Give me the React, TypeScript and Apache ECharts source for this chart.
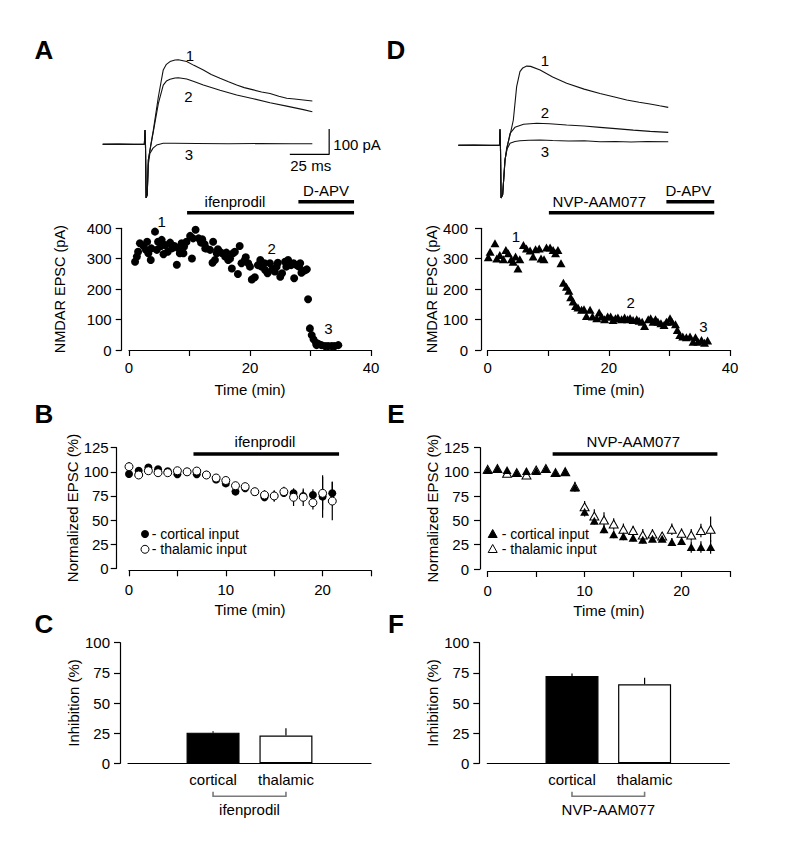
import { useEffect, useRef } from "react";
import * as echarts from "echarts";

const FONT = "Liberation Sans, Arial, Helvetica, sans-serif";

// ---------- Example traces (ms, pA) ----------
const traceA1: number[][] = [[0,0],[10,1],[20,-1],[26.5,0],[26.9,56],[27.2,0],[27.6,-212],[28.3,-200],[29,-62],[30.5,-5],[32.2,56],[35.4,188],[38.5,294],[40.5,316],[42.8,327],[46,333],[48.1,334],[53.4,327],[58,312],[64,294],[69,276],[74.6,261],[80,247],[85.2,234],[90,224],[95.8,215],[101,207],[106.4,201],[112,190],[117,182],[122,179],[127.6,175],[133.3,171]];
const traceA2: number[][] = [[0,0],[26.5,0],[26.9,56],[27.2,0],[27.6,-212],[28.3,-200],[29,-62],[30.5,-8],[32.2,50],[35.4,162],[38.5,234],[40.5,250],[42.8,257],[46,262],[48.1,263],[53.4,258],[58,248],[64,234],[74.6,214],[85.2,195],[95.8,180],[106.4,164],[117,151],[127.6,137],[133.3,129]];
const traceA3: number[][] = [[0,0],[26.5,0],[26.9,56],[27.2,0],[27.6,-212],[28.3,-200],[29,-80],[30,-36],[32,-15],[34.3,-3],[38.5,4],[45,4],[60,3],[80,2],[100,3],[120,2],[133.3,2]];
const scaleBarA: number[][] = [[119,-40],[144,-40],[144,60]];

const traceD1: number[][] = [[0,0],[10,1],[20,-1],[26.2,0],[26.5,63],[26.8,0],[27.2,-208],[28.2,-195],[29.7,-58],[30.8,-10],[32.9,40],[35,100],[37.1,232],[39.2,291],[41,306],[43.5,313],[46,312],[52,298],[60,270],[68.9,245],[80,222],[90.1,205],[100,190],[107.1,179],[115,170],[121.9,163],[128,156],[133.5,150]];
const traceD2: number[][] = [[0,0],[26.2,0],[26.5,63],[26.8,0],[27.2,-208],[28.2,-195],[29.7,-58],[31,-10],[32.9,47],[36,71],[41.5,83],[49.9,87],[58,85],[68.9,80],[80,76],[90.1,71],[100,66],[111.3,60],[122,55],[133.5,51]];
const traceD3: number[][] = [[0,0],[26.2,0],[26.5,63],[26.8,0],[27.2,-208],[28.2,-195],[29.7,-58],[31,-15],[32.9,8],[36,15],[39.2,18],[45,20],[52,21],[60,19],[70,17],[80,18],[90.1,14],[100,15],[110,13],[120,15],[133.5,14]];

// ---------- Panel A: ifenprodil time course ----------
const aTime = [1.0,1.3,1.5,1.8,2.4,2.8,3.0,3.2,3.6,3.7,4.3,4.6,4.8,5.3,5.4,5.7,6.0,6.4,6.8,7.1,7.5,7.9,8.2,8.4,8.7,9.0,9.1,9.5,10.1,10.4,10.6,11.0,11.5,11.9,12.1,12.5,12.6,12.8,13.4,13.8,13.9,14.2,14.5,14.7,15.0,15.4,15.9,16.1,16.4,16.7,17.0,17.2,17.5,18.0,18.3,18.6,19.1,19.3,19.7,20.0,20.3,20.8,21.3,21.7,21.9,22.4,22.5,22.9,23.3,23.7,24.1,24.4,24.6,25.0,25.3,25.8,26.0,26.3,26.8,27.2,27.3,27.7,28.1,28.3,28.5,29.0,29.4,29.6,29.9,30.2,30.5,30.9,31.0,31.3,31.8,32.4,32.9,33.5,34.0,34.6];
const aEpsc = [290,307,323,351,342,329,356,318,296,334,389,329,356,342,362,315,345,323,353,334,342,280,334,318,351,318,340,356,375,301,367,395,367,353,364,348,334,334,329,287,356,296,318,331,323,318,307,320,296,301,268,318,323,250,342,285,294,305,285,274,232,239,279,296,274,285,263,252,285,265,258,274,287,241,252,290,274,296,279,285,236,279,274,285,254,261,265,167,71,49,35,24,16,20,16,13,13,13,13,16];

// ---------- Panel D: NVP-AAM077 time course ----------
const dTime = [0.1,0.4,1.2,1.5,2.0,2.6,3.0,3.4,3.9,4.2,4.6,5.0,5.3,5.9,6.4,7.0,7.5,7.9,8.5,8.8,9.3,9.7,10.3,10.8,11.2,11.6,12.1,12.5,13.0,13.4,13.7,14.1,14.5,14.9,15.5,15.9,16.3,16.9,17.3,18.0,18.4,18.8,19.3,19.8,20.3,20.7,21.1,21.5,22.1,22.6,23.1,23.5,24.0,24.6,25.0,25.5,25.9,26.5,26.9,27.3,27.7,28.1,28.6,29.1,29.5,30.1,30.4,31.0,31.3,31.7,32.2,32.8,33.4,33.9,34.3,34.7,35.3,35.8,36.3];
const dEpsc = [305,323,351,301,312,298,329,318,298,290,307,268,298,345,334,327,307,331,334,301,298,337,337,329,318,329,285,221,208,195,173,159,145,140,132,134,112,132,110,104,123,110,101,110,110,99,104,107,101,107,101,104,99,101,96,93,79,101,104,93,101,93,88,82,93,104,93,85,66,49,44,42,44,27,42,27,33,24,31];

// drug application bars (min)
const drugsA = [{ name: "ifenprodil", start: 9.6, end: 37.2 }, { name: "D-APV", start: 28, end: 37.2 }];
const drugsD = [{ name: "NVP-AAM077", start: 10.1, end: 37.4 }, { name: "D-APV", start: 29.5, end: 37.4 }];
const drugB = [{ name: "ifenprodil", start: 6.66, end: 21.7 }];
const drugE = [{ name: "NVP-AAM077", start: 6.7, end: 23.7 }];

// ---------- Panel B ----------
const bTime = [0,1,2,3,4,5,6,7,8,9,10,11,12,13,14,15,16,17,18,19,20,21];
const bCort = [97.7,101.1,104.5,102.6,100.5,97.4,100,97.4,97,92,88,79.5,83,79,73.6,75,78,77.7,75,76,74.5,77.7];
const bCortErr = [2,2,2,2,2,2,2,2,2,3,3,3,4,3,4,5,4,5,6,6,22,12];
const bThal = [105.3,96.7,101.1,99.1,99.1,101.1,100,100.8,96.7,93.6,91,85.6,84.6,79.4,76,75,79.4,73.6,73.6,68,77.7,69.7];
const bThalErr = [5,2,2,2,2,2,2,2,4,4,4,4,4,4,5,6,5,9,9,7,17,20];

// ---------- Panel E ----------
const eTime = [0,1,2,3,4,5,6,7,8,9,10,11,12,13,14,15,16,17,18,19,20,21,22,23];
const eCort = [102,103,102,99,101,101,103,99,100,84,59,49.8,40.9,35.7,33.7,32.3,30.2,31.3,31.3,27.9,28.9,22.7,22.7,22.7];
const eCortErr = [2,2,2,2,3,2,2,2,2,4,5,4,4,4,4,4,4,3,3,4,4,6,6,7];
const eThal = [102.7,103.6,98.6,99.3,96.8,102,103.6,99.3,100.3,84.8,64.2,54.6,50.5,46.4,41,39.6,35.1,36.1,34,41,36.8,35.1,39.6,41];
const eThalErr = [2,2,2,2,3,2,2,2,2,5,6,7,8,6,6,5,6,5,4,6,5,6,7,13];

// ---------- Panels C & F ----------
const barCats = ["cortical", "thalamic"];
const cInhib = [25.4, 23];
const cErr = [1.2, 6];
const fInhib = [72.4, 65.5];
const fErr = [2, 5.5];

const black = "#000";

function axisBase(extra: any) {
  return {
    type: "value",
    splitLine: { show: false },
    axisLine: { show: true, onZero: false, lineStyle: { color: black, width: 1.2 } },
    axisTick: { show: true, length: 6, lineStyle: { color: black, width: 1.2 } },
    nameTextStyle: { color: black, fontSize: 15, fontFamily: FONT },
    nameLocation: "middle",
    ...extra,
    axisLabel: { color: black, fontSize: 15, fontFamily: FONT, ...(extra.axisLabel || {}) },
  };
}

const drugBar = (offsets: number[]) => (params: any, api: any) => {
  const x0 = api.coord([api.value(0), 0])[0];
  const x1 = api.coord([api.value(1), 0])[0];
  const y = params.coordSys.y - offsets[params.dataIndex];
  return { type: "line", shape: { x1: x0, y1: y, x2: x1, y2: y }, style: { stroke: black, lineWidth: 3.5 } };
};

const errBar = (params: any, api: any) => {
  const x = api.value(0), m = api.value(1), e = api.value(2);
  const p1 = api.coord([x, m - e]);
  const p2 = api.coord([x, m + e]);
  return { type: "line", shape: { x1: p1[0], y1: p1[1], x2: p2[0], y2: p2[1] }, style: { stroke: black, lineWidth: 1.2 } };
};

const errBarUp = (params: any, api: any) => {
  const x = api.value(0), m = api.value(1), e = api.value(2);
  const p1 = api.coord([x, m]);
  const p2 = api.coord([x, m + e]);
  return { type: "line", shape: { x1: p1[0], y1: p1[1], x2: p2[0], y2: p2[1] }, style: { stroke: black, lineWidth: 1.2 } };
};

const bracket = (params: any, api: any) => {
  const a = api.coord([api.value(0), 0]);
  const b = api.coord([api.value(1), 0]);
  const y = a[1] + 33;
  return {
    type: "polyline",
    shape: { points: [[a[0], y - 4.5], [a[0], y], [b[0], y], [b[0], y - 4.5]] },
    style: { stroke: "#7a7a7a", lineWidth: 1.6, fill: null },
  };
};

function txt(text: string, x: number, y: number, opts: any = {}) {
  return {
    type: "text",
    x,
    y,
    style: {
      text,
      fill: black,
      fontSize: opts.size || 15,
      fontWeight: opts.bold ? "bold" : "normal",
      fontFamily: FONT,
      align: opts.align || "center",
      verticalAlign: "middle",
    },
  };
}

function tri(cx: number, cy: number, filled: boolean) {
  return {
    type: "polygon",
    shape: { points: [[cx, cy - 4.5], [cx + 4.5, cy + 3.5], [cx - 4.5, cy + 3.5]] },
    style: { fill: filled ? black : "#fff", stroke: black, lineWidth: 1 },
  };
}

export default function App() {
  const ref = useRef<HTMLDivElement>(null);
  useEffect(() => {
    if (!ref.current) return;
    const chart = echarts.init(ref.current, null, { renderer: "svg" });

    const traceLine = (data: number[][], idx: number) => ({
      type: "line", xAxisIndex: idx, yAxisIndex: idx, data, showSymbol: false, symbol: "none",
      lineStyle: { color: "#111", width: 1.1 }, silent: true,
    });

    const option: any = {
      animation: false,
      backgroundColor: "#fff",
      textStyle: { fontFamily: FONT, fontSize: 15, color: black },
      grid: [
        { left: 102.7, top: 43.1, width: 235.9, height: 164.45 },
        { left: 458.3, top: 44.1, width: 235.9, height: 164.45 },
        { left: 129, top: 228.3, width: 242, height: 121.7 },
        { left: 487.7, top: 228.3, width: 242.3, height: 121.7 },
        { left: 129, top: 447.7, width: 242, height: 120.6 },
        { left: 487.7, top: 447.7, width: 242.3, height: 121.3 },
        { left: 128, top: 642.7, width: 243, height: 120.6 },
        { left: 487.3, top: 642.7, width: 242, height: 120.6 },
      ],
      xAxis: [
        { gridIndex: 0, type: "value", min: 0, max: 150, show: false },
        { gridIndex: 1, type: "value", min: 0, max: 150, show: false },
        axisBase({ gridIndex: 2, min: 0, max: 40, interval: 10, name: "Time (min)", nameGap: 32,
          axisLabel: { margin: 10, formatter: (v: number) => (v % 20 === 0 ? String(v) : "") } }),
        axisBase({ gridIndex: 3, min: 0, max: 40, interval: 10, name: "Time (min)", nameGap: 32,
          axisLabel: { margin: 10, formatter: (v: number) => (v % 20 === 0 ? String(v) : "") } }),
        axisBase({ gridIndex: 4, min: 0, max: 25, interval: 5, offset: 2, name: "Time (min)", nameGap: 32,
          axisLabel: { margin: 12, formatter: (v: number) => (v % 10 === 0 ? String(v) : "") } }),
        axisBase({ gridIndex: 5, min: 0, max: 25, interval: 5, offset: 2, name: "Time (min)", nameGap: 32,
          axisLabel: { margin: 12, formatter: (v: number) => (v % 10 === 0 ? String(v) : "") } }),
        axisBase({ gridIndex: 6, min: -1 / 6, max: 19 / 6, name: "ifenprodil", nameGap: 38.5,
          axisTick: { show: false },
          axisLabel: { margin: 9, customValues: [1, 2], formatter: (v: number) => barCats[Math.round(v) - 1] || "" } }),
        axisBase({ gridIndex: 7, min: -1 / 6, max: 19 / 6, name: "NVP-AAM077", nameGap: 38.5,
          axisTick: { show: false },
          axisLabel: { margin: 9, customValues: [1, 2], formatter: (v: number) => barCats[Math.round(v) - 1] || "" } }),
      ],
      yAxis: [
        { gridIndex: 0, type: "value", min: -250, max: 400, show: false },
        { gridIndex: 1, type: "value", min: -250, max: 400, show: false },
        axisBase({ gridIndex: 2, min: 0, max: 400, interval: 100, offset: 7.3, name: "NMDAR EPSC (pA)", nameGap: 54,
          nameTextStyle: { color: black, fontSize: 14.5, fontFamily: FONT }, axisLabel: { margin: 10 } }),
        axisBase({ gridIndex: 3, min: 0, max: 400, interval: 100, offset: 6.7, name: "NMDAR EPSC (pA)", nameGap: 42,
          nameTextStyle: { color: black, fontSize: 14.5, fontFamily: FONT }, axisLabel: { margin: 13 } }),
        axisBase({ gridIndex: 4, min: 0, max: 125, interval: 25, offset: 12.3, name: "Normalized EPSC (%)", nameGap: 36,
          axisLabel: { margin: 8 } }),
        axisBase({ gridIndex: 5, min: 0, max: 125, interval: 25, offset: 7.7, name: "Normalized EPSC (%)", nameGap: 39,
          axisLabel: { margin: 11 } }),
        axisBase({ gridIndex: 6, min: 0, max: 100, interval: 25, offset: 8, name: "Inhibition (%)", nameGap: 38.5,
          axisLabel: { margin: 10 } }),
        axisBase({ gridIndex: 7, min: 0, max: 100, interval: 25, offset: 8, name: "Inhibition (%)", nameGap: 39,
          axisLabel: { margin: 10 } }),
      ],
      series: [
        // traces
        traceLine(traceA1, 0), traceLine(traceA2, 0), traceLine(traceA3, 0),
        { ...traceLine(scaleBarA, 0), lineStyle: { color: black, width: 1.2 } },
        traceLine(traceD1, 1), traceLine(traceD2, 1), traceLine(traceD3, 1),
        // time courses
        { type: "custom", xAxisIndex: 2, yAxisIndex: 2, data: drugsA.map((d) => [d.start, d.end]), renderItem: drugBar([15.6, 26.6]), silent: true },
        { type: "scatter", xAxisIndex: 2, yAxisIndex: 2, data: aTime.map((t, i) => [t, aEpsc[i]]), symbol: "circle", symbolSize: 8, itemStyle: { color: black, opacity: 1 }, silent: true },
        { type: "custom", xAxisIndex: 3, yAxisIndex: 3, data: drugsD.map((d) => [d.start, d.end]), renderItem: drugBar([15.6, 26.6]), silent: true },
        { type: "scatter", xAxisIndex: 3, yAxisIndex: 3, data: dTime.map((t, i) => [t, dEpsc[i]]), symbol: "triangle", symbolSize: [9, 8], itemStyle: { color: black, opacity: 1 }, silent: true },
        // B
        { type: "custom", xAxisIndex: 4, yAxisIndex: 4, data: drugB.map((d) => [d.start, d.end]), renderItem: drugBar([-6.3]), silent: true },
        { type: "custom", z: 1, xAxisIndex: 4, yAxisIndex: 4, data: bTime.map((t, i) => [t, bCort[i], bCortErr[i]]), renderItem: errBar, encode: { x: 0, y: 1 }, silent: true },
        { type: "custom", z: 1, xAxisIndex: 4, yAxisIndex: 4, data: bTime.map((t, i) => [t, bThal[i], bThalErr[i]]), renderItem: errBar, encode: { x: 0, y: 1 }, silent: true },
        { type: "scatter", z: 3, name: "cortical input", xAxisIndex: 4, yAxisIndex: 4, data: bTime.map((t, i) => [t, bCort[i]]), symbol: "circle", symbolSize: 8, itemStyle: { color: black, opacity: 1 }, silent: true },
        { type: "scatter", z: 4, name: "thalamic input", xAxisIndex: 4, yAxisIndex: 4, data: bTime.map((t, i) => [t, bThal[i]]), symbol: "circle", symbolSize: 8, itemStyle: { color: "#fff", borderColor: black, borderWidth: 1, opacity: 1 }, silent: true },
        // E
        { type: "custom", xAxisIndex: 5, yAxisIndex: 5, data: drugE.map((d) => [d.start, d.end]), renderItem: drugBar([-6.3]), silent: true },
        { type: "custom", z: 1, xAxisIndex: 5, yAxisIndex: 5, data: eTime.map((t, i) => [t, eThal[i], eThalErr[i]]), renderItem: errBar, encode: { x: 0, y: 1 }, silent: true },
        { type: "custom", z: 1, xAxisIndex: 5, yAxisIndex: 5, data: eTime.map((t, i) => [t, eCort[i], eCortErr[i]]), renderItem: errBar, encode: { x: 0, y: 1 }, silent: true },
        { type: "scatter", z: 3, name: "thalamic input", xAxisIndex: 5, yAxisIndex: 5, data: eTime.map((t, i) => [t, eThal[i]]), symbol: "triangle", symbolSize: [9, 8], itemStyle: { color: "#fff", borderColor: black, borderWidth: 1, opacity: 1 }, silent: true },
        { type: "scatter", z: 4, name: "cortical input", xAxisIndex: 5, yAxisIndex: 5, data: eTime.map((t, i) => [t, eCort[i]]), symbol: "triangle", symbolSize: [9, 8], itemStyle: { color: black, opacity: 1 }, silent: true },
        // C
        { type: "bar", xAxisIndex: 6, yAxisIndex: 6, barWidth: 53, silent: true,
          data: cInhib.map((v, i) => ({ value: [i + 1, v], itemStyle: { color: i === 0 ? black : "#fff", borderColor: black, borderWidth: 1.2 } })) },
        { type: "custom", xAxisIndex: 6, yAxisIndex: 6, data: cInhib.map((v, i) => [i + 1, v, cErr[i]]), renderItem: errBarUp, encode: { x: 0, y: 1 }, silent: true },
        { type: "custom", xAxisIndex: 6, yAxisIndex: 6, data: [[1, 2]], renderItem: bracket, silent: true },
        // F
        { type: "bar", xAxisIndex: 7, yAxisIndex: 7, barWidth: 53, silent: true,
          data: fInhib.map((v, i) => ({ value: [i + 1, v], itemStyle: { color: i === 0 ? black : "#fff", borderColor: black, borderWidth: 1.2 } })) },
        { type: "custom", xAxisIndex: 7, yAxisIndex: 7, data: fInhib.map((v, i) => [i + 1, v, fErr[i]]), renderItem: errBarUp, encode: { x: 0, y: 1 }, silent: true },
        { type: "custom", xAxisIndex: 7, yAxisIndex: 7, data: [[1, 2]], renderItem: bracket, silent: true },
      ],
      graphic: [
        txt("A", 44, 50, { bold: true, size: 26 }),
        txt("D", 396, 50, { bold: true, size: 26 }),
        txt("B", 44, 414, { bold: true, size: 26 }),
        txt("E", 396, 414, { bold: true, size: 26 }),
        txt("C", 44, 624, { bold: true, size: 26 }),
        txt("F", 396, 624, { bold: true, size: 26 }),
        txt("1", 190, 55), txt("2", 188.3, 96), txt("3", 189, 154),
        txt("100 pA", 333.3, 144.3, { align: "left" }), txt("25 ms", 310.7, 165),
        txt("1", 545, 60), txt("2", 545, 112.7), txt("3", 545, 151.7),
        txt(drugsA[0].name, 235, 201.7), txt(drugsA[1].name, 326, 190),
        txt(drugsD[0].name, 599.3, 201.7), txt(drugsD[1].name, 688.3, 190),
        txt("1", 161.7, 221.7), txt("2", 271.7, 248.3), txt("3", 328.3, 328.3),
        txt("1", 516, 236), txt("2", 630.7, 302.7), txt("3", 703.3, 326),
        txt(drugB[0].name, 265, 441.7), txt(drugE[0].name, 633.3, 441.7),
        { type: "circle", shape: { cx: 145, cy: 534, r: 4 }, style: { fill: black } },
        { type: "circle", shape: { cx: 145, cy: 549.3, r: 4 }, style: { fill: "#fff", stroke: black, lineWidth: 1 } },
        txt("- cortical input", 151.7, 534, { align: "left", size: 14 }),
        txt("- thalamic input", 151.7, 549.3, { align: "left", size: 14 }),
        tri(492.7, 534, true), tri(492.7, 549, false),
        txt("- cortical input", 501.7, 534, { align: "left", size: 14 }),
        txt("- thalamic input", 501.7, 549, { align: "left", size: 14 }),
      ],
    };
    chart.setOption(option);
    return () => chart.dispose();
  }, []);
  return <div ref={ref} style={{ position: "absolute", left: 0, top: 0, width: 793, height: 844 }} />;
}
